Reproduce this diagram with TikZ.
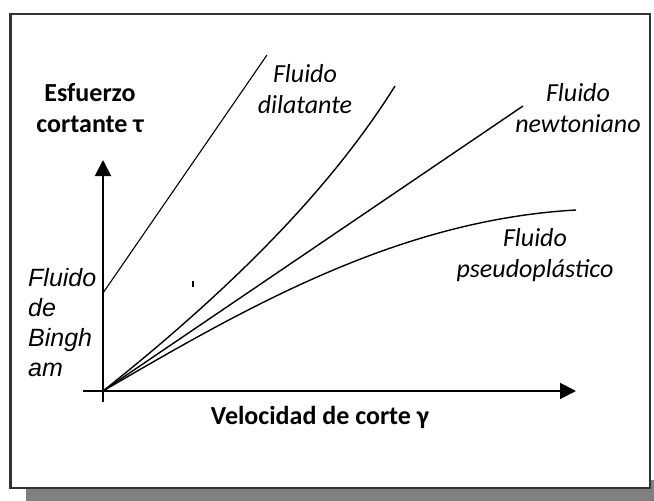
\documentclass[tikz,border=0pt]{standalone}
\usepackage{fontspec}
\setmainfont{Carlito}
\newfontfamily\arialfont{Liberation Sans}
\usetikzlibrary{arrows.meta}

\definecolor{shadowgray}{HTML}{808080}
\definecolor{framegray}{HTML}{333333}

\begin{document}
\begin{tikzpicture}[x=1pt,y=-1pt,
	axis/.style={line width=2pt,-{Triangle[length=16pt,width=16pt]}},
	curve/.style={line width=1.4pt},
	fluidlabel/.style={font=\fontsize{26}{31}\selectfont\itshape,align=center,inner sep=0pt},
	axislabel/.style={font=\fontsize{26}{31}\selectfont\bfseries,align=center,inner sep=0pt}]

\useasboundingbox (0,0) rectangle (654,501);
\fill[shadowgray] (26,480) rectangle (654,501);
\draw[framegray,line width=2.5pt,fill=white] (10.5,14) rectangle (650,488);

	\coordinate (origin) at (103,391);
	\coordinate (yLow) at (103,402);
	\coordinate (yTop) at (103,160);
	\coordinate (xLeft) at (83,391);
	\coordinate (xRight) at (576,391);
	\coordinate (binghStart) at (103,293);
	\coordinate (binghEnd) at (267,55);
	\coordinate (dilEnd) at (395,86);
	\coordinate (newtEnd) at (523,106);
	\coordinate (pseudoEnd) at (576,210);

\draw[axis](yLow) -- (yTop);
\draw[axis](xLeft) -- (xRight);

\draw[line width=1.1pt](binghStart) -- (binghEnd);
\draw[curve](origin) .. controls (230,290) and (330,190) .. (dilEnd);
\draw[curve](origin) -- (newtEnd);
\draw[curve](origin) .. controls (250,305) and (400,220) .. (pseudoEnd);

\draw[line width=1.5pt](193,281) -- (193,287);

	\node[axislabel] (tauLabel) at (90,108) {Esfuerzo\\cortante τ};
	\node[axislabel] (gammaLabel) at (320,417) {Velocidad de corte γ};
	\node[fluidlabel] (dilLabel) at (305,89) {Fluido\\dilatante};
	\node[fluidlabel] (newtLabel) at (578,108) {Fluido\\newtoniano};
	\node[fluidlabel] (pseudoLabel) at (535,255) {Fluido\\pseudoplástico};
	\node[anchor=west,align=left,inner sep=0pt,font=\arialfont\fontsize{25}{30}\selectfont\itshape] (binghLabel) at (28,323) {Fluido\\de\\Bingh\\am};

\end{tikzpicture}
\end{document}
